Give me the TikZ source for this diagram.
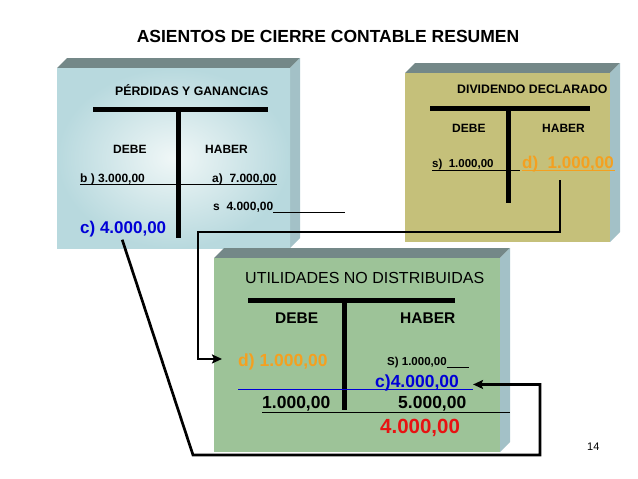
\documentclass[tikz,border=0pt]{standalone}
\usepackage{fontspec}
\setmainfont{Liberation Sans}
\usetikzlibrary{arrows.meta}

\definecolor{bevelgray}{RGB}{116,136,136}
\definecolor{sidegray}{RGB}{163,193,199}
\definecolor{pygin}{RGB}{240,247,247}
\definecolor{pygout}{RGB}{184,217,222}
\definecolor{divfill}{RGB}{197,192,122}
\definecolor{utilfill}{RGB}{157,195,152}
\definecolor{amount}{RGB}{244,160,32}
\definecolor{closeblue}{RGB}{0,0,215}
\definecolor{closered}{RGB}{232,18,18}

\begin{document}
\begin{tikzpicture}[x=1pt,y=-1pt,
    every node/.style={inner sep=0pt,anchor=base west},
    tbar/.style={line width=5pt},
    ruleline/.style={line width=1pt},
    conn/.style={line width=2.7pt,-{Stealth[length=10pt,width=9pt,inset=2pt]}},
    caption/.style={font=\bfseries\fontsize{12.3}{14}\selectfont},
    side/.style={font=\bfseries\fontsize{12}{14}\selectfont},
    big/.style={font=\bfseries\fontsize{17}{20}\selectfont}]

  \useasboundingbox (0,0) rectangle (638,479);

  \node[font=\bfseries\fontsize{17.5}{20}\selectfont,anchor=base] (title) at (328,42) {ASIENTOS DE CIERRE CONTABLE RESUMEN};

  % perdidas y ganancias
  \fill[bevelgray] (57,68) -- (67,58) -- (300,58) -- (290,68) -- cycle;
  \fill[sidegray] (290,68) -- (300,58) -- (300,238) -- (290,248) -- cycle;
  \shade[inner color=pygin,outer color=pygout] (57,68) rectangle (290,248);

  % dividendo declarado
  \fill[bevelgray] (405,73) -- (415,63) -- (620,63) -- (610,73) -- cycle;
  \fill[sidegray] (610,73) -- (620,63) -- (620,232) -- (610,242) -- cycle;
  \fill[divfill] (405,73) rectangle (610,242);

  % utilidades no distribuidas
  \fill[bevelgray] (214,258) -- (224,248) -- (510,248) -- (500,258) -- cycle;
  \fill[sidegray] (500,258) -- (510,248) -- (510,442) -- (500,452) -- cycle;
  \fill[utilfill] (214,258) rectangle (500,452);

  % T accounts
  \draw[tbar] (93,109) -- (268,109);
  \draw[tbar] (178,109) -- (178,238);
  \draw[tbar] (430,108) -- (590,108);
  \draw[tbar] (508,108) -- (508,203);
  \draw[tbar] (248,300) -- (455,300);
  \draw[tbar] (344,300) -- (344,410);

  \draw[ruleline] (80,184) -- (277,184);
  \draw[ruleline] (432,170.5) -- (520,170.5);
  \draw[ruleline,amount] (522,170.5) -- (615,170.5);
  \draw[ruleline,closeblue] (238,389) -- (473,389);
  \draw[ruleline] (262,412) -- (510,412);

  \begin{scope}
    \node[caption] (pygt) at (115,95) {PÉRDIDAS Y GANANCIAS};
    \node[side] (debe1) at (113,153) {DEBE};
    \node[side] (haber1) at (205,153) {HABER};
    \node[side] (b3000) at (80,182) {b ) 3.000,00};
    \node[side] (a7000) at (212,182) {a)\ \ 7.000,00};
    \node[side] (s4000) at (213,210) {s\ \ 4.000,00\rule[-2.5pt]{72pt}{0.8pt}};
    \node[big,closeblue] (c4000) at (80,233) {c) 4.000,00};
  \end{scope}

  \begin{scope}
    \node[caption] (divt) at (457,93.5) {DIVIDENDO DECLARADO};
    \node[side] (debe2) at (452,132) {DEBE};
    \node[side] (haber2) at (542,132) {HABER};
    \node[font=\bfseries\fontsize{11.5}{14}\selectfont] (s1000) at (432,167.5) {s)\ \ 1.000,00};
    \node[big,amount] (d1000) at (522,168.5) {d)\ \ 1.000,00};
  \end{scope}

  \begin{scope}[every node/.append style={font=\bfseries\fontsize{17.5}{20}\selectfont}]
    \node[font=\fontsize{16}{19}\selectfont] (utilt) at (245,283.5) {UTILIDADES NO DISTRIBUIDAS};
    \node[font=\bfseries\fontsize{15.5}{18}\selectfont] (debe3) at (275,323.5) {DEBE};
    \node[font=\bfseries\fontsize{15.5}{18}\selectfont] (haber3) at (400,323.5) {HABER};
    \node[amount] (d1000u) at (238,366.5) {d) 1.000,00};
    \node[font=\bfseries\fontsize{11.5}{14}\selectfont] (s1000u) at (387,365.5) {S) 1.000,00\rule[-2pt]{22pt}{0.8pt}};
    \node[closeblue] (c4000u) at (375,387) {c)4.000,00};
    \node (one1000) at (262,408.5) {1.000,00};
    \node (five5000) at (398,408.5) {5.000,00};
    \node[closered,font=\bfseries\fontsize{20.5}{24}\selectfont] (red4000) at (380,433.5) {4.000,00};
  \end{scope}

  \node[font=\fontsize{11}{13}\selectfont] (page) at (587,450.5) {14};

  % closing entries
  \coordinate (pygdown) at (193,455);
  \coordinate (utilright) at (540,455);
  \coordinate (divleft) at (198,232);
  \draw[conn] ([xshift=-1pt,yshift=-3pt]c4000.south) -- (pygdown) -- (utilright) |- ([xshift=14pt,yshift=-2pt]c4000u.east);
  \draw[conn] ([xshift=-8pt,yshift=-8pt]d1000.south) |- (divleft) |- ([xshift=-16pt,yshift=3pt]d1000u.west);

\end{tikzpicture}
\end{document}
